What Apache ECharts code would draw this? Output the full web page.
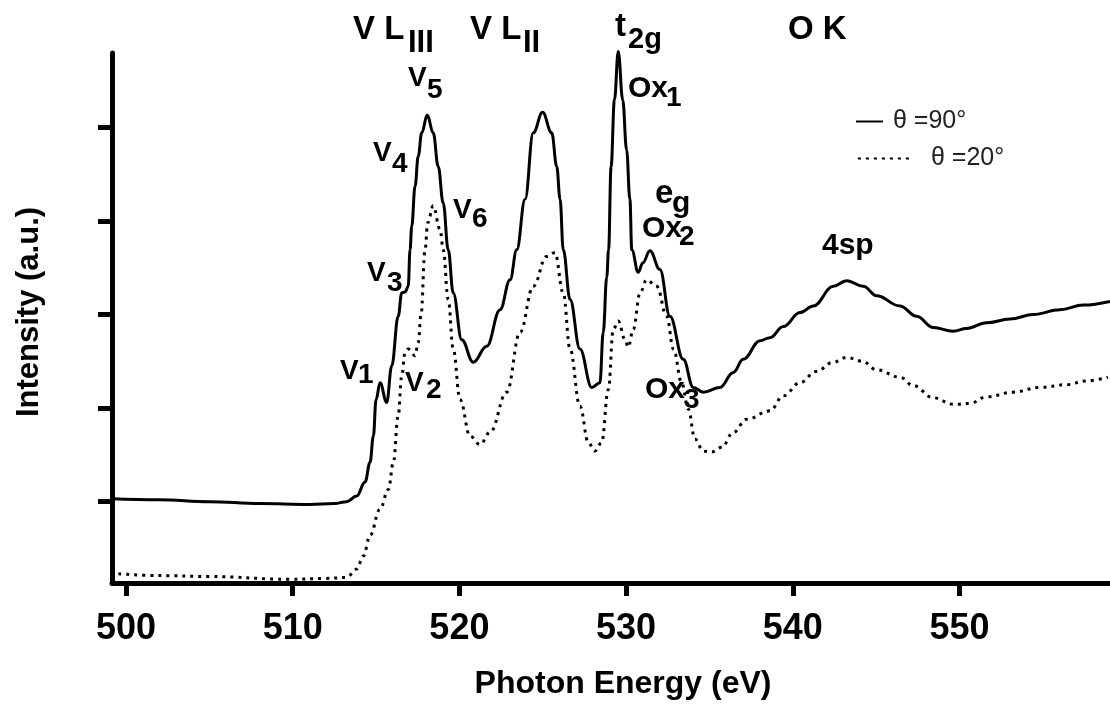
<!DOCTYPE html>
<html><head><meta charset="utf-8">
<script src="https://cdn.jsdelivr.net/npm/echarts@6/dist/echarts.min.js"></script>
<style>html,body{margin:0;padding:0;background:#fff}#c{width:1110px;height:705px}</style>
</head><body><div id="c"></div>
<script>
// ---- data ----
const seriesNames = ['θ =90°', 'θ =20°'];
const energy90 = [499.16, 502, 505, 508, 511, 512.5, 513.24, 513.84, 514.34, 514.64, 514.84, 515.0, 515.24, 515.64, 515.94, 516.33, 516.54, 516.74, 516.93, 517.04, 517.14, 517.34, 517.53, 517.74, 518.07, 518.43, 518.73, 519.03, 519.33, 519.63, 520.14, 520.83, 521.64, 522.44, 523.04, 523.44, 523.94, 524.43, 524.99, 525.54, 525.84, 526.04, 526.23, 526.64, 527.23, 527.94, 528.43, 528.63, 528.84, 528.95, 529.1, 529.3, 529.53, 529.8, 530.03, 530.23, 530.34, 530.73, 531.0, 531.43, 532.03, 532.63, 533.43, 534.03, 534.63, 535.63, 536.43, 537.03, 538.03, 538.63, 539.43, 540.43, 541.23, 542.43, 543.23, 544.23, 545.03, 546.43, 547.43, 548.43, 549.62, 550.42, 551.62, 553.03, 554.43, 556.03, 557.43, 559.03];
const intensity90 = [1.03, 1.02, 1.00, 0.98, 0.97, 0.98, 1.00, 1.06, 1.21, 1.42, 1.70, 2.09, 2.27, 2.06, 2.45, 2.98, 3.23, 3.24, 3.30, 3.69, 3.94, 4.37, 4.69, 4.94, 5.13, 4.94, 4.58, 4.19, 3.69, 3.23, 2.73, 2.49, 2.66, 3.05, 3.37, 3.69, 4.23, 4.94, 5.16, 4.94, 4.58, 4.23, 3.69, 3.16, 2.63, 2.22, 2.27, 2.81, 3.40, 3.69, 4.58, 5.29, 5.81, 5.29, 4.76, 4.23, 3.69, 3.45, 3.55, 3.68, 3.48, 2.98, 2.52, 2.22, 2.17, 2.22, 2.38, 2.52, 2.72, 2.75, 2.87, 3.02, 3.09, 3.30, 3.36, 3.30, 3.20, 3.09, 2.98, 2.86, 2.82, 2.85, 2.91, 2.95, 3.00, 3.05, 3.10, 3.14];
const energy20 = [499.54, 502, 505, 509.84, 512, 513.24, 513.84, 514.24, 514.64, 515.24, 515.74, 516.04, 516.33, 516.54, 516.74, 516.93, 517.34, 517.53, 517.7, 517.94, 518.1, 518.43, 518.84, 519.03, 519.33, 519.63, 520.04, 520.64, 521.24, 521.84, 522.84, 523.64, 524.43, 525.23, 525.73, 526.23, 526.64, 527.23, 527.74, 528.13, 528.53, 528.94, 529.23, 529.53, 529.94, 530.13, 530.43, 530.84, 531.23, 531.84, 532.44, 532.84, 533.34, 533.73, 534.13, 534.63, 535.13, 535.73, 536.43, 537.23, 538.63, 539.43, 540.43, 541.4, 542.43, 543.23, 544.2, 545.0, 546.43, 547.23, 548.43, 549.62, 550.64, 551.62, 553.23, 554.84, 556.43, 557.6, 558.9];
const intensity20 = [0.23, 0.21, 0.20, 0.17, 0.18, 0.19, 0.28, 0.42, 0.64, 0.92, 1.13, 1.42, 1.92, 2.34, 2.59, 2.63, 2.56, 2.70, 3.00, 3.69, 3.98, 4.16, 3.91, 3.69, 3.16, 2.63, 2.09, 1.70, 1.61, 1.74, 2.17, 2.81, 3.30, 3.62, 3.66, 3.23, 2.63, 2.02, 1.63, 1.54, 1.63, 2.20, 2.84, 2.93, 2.73, 2.65, 2.84, 3.23, 3.37, 3.30, 2.98, 2.63, 2.27, 1.99, 1.67, 1.54, 1.53, 1.58, 1.74, 1.88, 1.97, 2.13, 2.27, 2.39, 2.49, 2.54, 2.50, 2.41, 2.33, 2.24, 2.11, 2.04, 2.05, 2.12, 2.17, 2.22, 2.25, 2.29, 2.33];
const xTicks = [500, 510, 520, 530, 540, 550];
const yTicks = [1, 2, 3, 4, 5];
const xTitle = 'Photon Energy (eV)';
const yTitle = 'Intensity (a.u.)';

// ---- annotation text pieces: [text, left px, middle px, font size] ----
const notes = [
  ['V L', 353, 30, 33], ['III', 408, 43.5, 31],
  ['V L', 470, 30, 33], ['II', 523, 43.5, 31],
  ['t', 615, 26.5, 33], ['2g', 628, 40, 29],
  ['O K', 788, 30, 33],
  ['V', 408, 78, 28], ['5', 427, 90, 28],
  ['V', 373, 153, 28], ['4', 392, 164, 28],
  ['V', 453, 210, 28], ['6', 472, 219, 28],
  ['V', 367, 273, 28], ['3', 387, 283, 28],
  ['V', 340, 371, 28], ['1', 358, 375, 28],
  ['V', 405, 383, 28], ['2', 426, 390, 28],
  ['Ox', 628, 88.5, 30], ['1', 666, 98, 28],
  ['e', 655, 193.5, 33], ['g', 672, 203.5, 30],
  ['Ox', 642, 229, 30], ['2', 679, 237.5, 28],
  ['Ox', 645, 390, 30], ['3', 684, 400, 28],
  ['4sp', 822, 246, 30]
];

const FONT = "'Liberation Sans', Arial, Helvetica, sans-serif";
const zip = (a, b) => a.map((v, i) => [v, b[i]]);

const chart = echarts.init(document.getElementById('c'), null, {renderer: 'canvas'});
const axisLine = {show: true, lineStyle: {color: '#000', width: 5}};
const legendBase = {padding: 0, itemHeight: 14, itemStyle: {opacity: 0}, inactiveColor: '#000'};
const option = {
  animation: false,
  backgroundColor: '#fff',
  grid: {left: 112, right: 0, top: 53, bottom: 121, containLabel: false},
  xAxis: {
    type: 'value', min: 499.16, max: 559.03,
    name: xTitle, nameLocation: 'middle', nameGap: 85,
    nameTextStyle: {fontFamily: FONT, fontWeight: 'bold', fontSize: 32, color: '#000', padding: [0, 0, 0, 24]},
    axisLine: axisLine,
    axisTick: {show: true, inside: false, length: 13, customValues: xTicks, lineStyle: {color: '#000', width: 5}},
    axisLabel: {show: true, customValues: xTicks, margin: 28, fontFamily: FONT, fontWeight: 'bold', fontSize: 36, color: '#000'},
    splitLine: {show: false}
  },
  yAxis: {
    type: 'value', min: 0.131, max: 5.793,
    name: yTitle, nameLocation: 'middle', nameGap: 67,
    nameTextStyle: {fontFamily: FONT, fontWeight: 'bold', fontSize: 31, color: '#000', padding: [0, 0, 0, 12]},
    axisLine: axisLine,
    axisTick: {show: true, inside: false, length: 14, customValues: yTicks, lineStyle: {color: '#000', width: 5}},
    axisLabel: {show: false},
    splitLine: {show: false}
  },
  legend: [
    Object.assign({data: [seriesNames[0]], left: 855, top: 109, itemWidth: 27,
     textStyle: {fontFamily: FONT, fontSize: 25, color: '#222', padding: [0, 0, 0, 5]}}, legendBase),
    Object.assign({data: [seriesNames[1]], left: 857, top: 146, itemWidth: 56,
     textStyle: {fontFamily: FONT, fontSize: 25, color: '#222', padding: [0, 0, 0, 12]}}, legendBase)
  ],
  series: [
    {name: seriesNames[0], type: 'line', data: zip(energy90, intensity90), smooth: 0.4, smoothMonotone: 'x',
     symbol: 'none', showSymbol: false, clip: false,
     lineStyle: {color: '#000', width: 3}, itemStyle: {color: '#000'}},
    {name: seriesNames[1], type: 'line', data: zip(energy20, intensity20), smooth: 0.4, smoothMonotone: 'x',
     symbol: 'none', showSymbol: false, clip: false,
     lineStyle: {color: '#000', width: 3, type: [3, 5]}, itemStyle: {color: '#000'}}
  ],
  graphic: notes.map(n => ({
    type: 'text', x: n[1], y: n[2], silent: true,
    style: {text: n[0], fill: '#000', font: 'bold ' + n[3] + 'px ' + FONT,
            align: 'left', verticalAlign: 'middle', textAlign: 'left', textVerticalAlign: 'middle'}
  }))
};
chart.setOption(option);
</script>
</body></html>
